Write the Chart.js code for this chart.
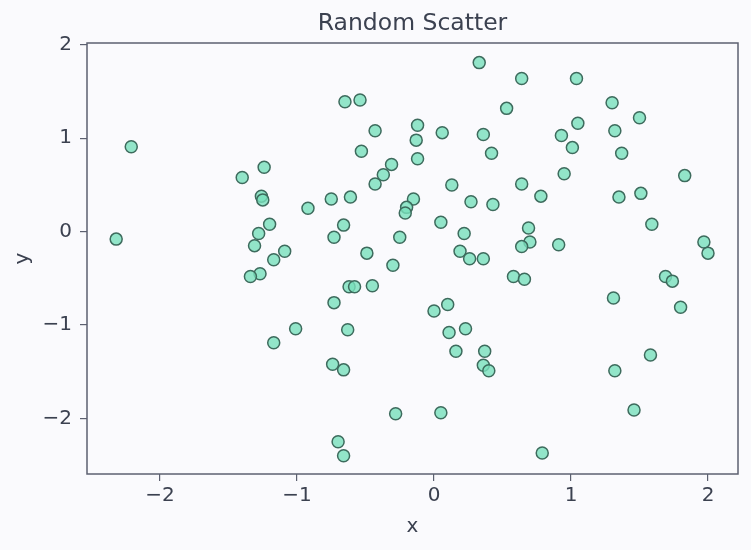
<!DOCTYPE html>
<html>
<head>
<meta charset="utf-8">
<script src="https://cdn.jsdelivr.net/npm/chart.js@4.4.1/dist/chart.umd.min.js"></script>
<style>
  html, body { margin: 0; padding: 0; background: #fafafd; }
  #wrap { width: 751px; height: 550px; }
</style>
</head>
<body>
<div id="wrap"><canvas id="scatter" width="751" height="550"></canvas></div>
<script>
// valores
const xValues = [
  -2.32, -2.21, -1.40, -1.24, -1.26, -1.25, -1.20, -1.28, -1.31, -1.09,
  -1.17, -1.27, -1.34, -1.01, -1.17, -0.65, -0.54, -0.43, -0.12, -0.13,
  -0.53, -0.12, -0.31, -0.37, -0.43, -0.75, -0.61, -0.92, -0.15, -0.20,
  -0.21, -0.66, -0.73, -0.25, -0.49, -0.30, -0.62, -0.58, -0.45, -0.73,
  -0.63, -0.74, -0.66, -0.28, -0.70, -0.66, 0.33, 0.06, 0.36, 0.42,
  0.13, 0.27, 0.43, 0.05, 0.22, 0.19, 0.26, 0.36, 0.00, 0.10,
  0.11, 0.23, 0.16, 0.37, 0.36, 0.40, 0.05, 0.53, 0.64, 1.04,
  1.30, 1.50, 1.05, 1.32, 0.93, 1.01, 1.37, 0.95, 1.83, 0.64,
  0.78, 1.35, 1.51, 1.59, 0.69, 0.70, 0.64, 0.91, 1.97, 2.00,
  0.58, 0.66, 1.69, 1.74, 1.80, 1.31, 1.58, 1.32, 1.46, 0.79
];
const yValues = [
  -0.08, 0.91, 0.58, 0.69, 0.38, 0.34, 0.08, -0.02, -0.15, -0.21,
  -0.30, -0.45, -0.48, -1.04, -1.19, 1.39, 1.41, 1.08, 1.14, 0.98,
  0.86, 0.78, 0.72, 0.61, 0.51, 0.35, 0.37, 0.25, 0.35, 0.26,
  0.20, 0.07, -0.06, -0.06, -0.23, -0.36, -0.59, -0.59, -0.58, -0.76,
  -1.05, -1.42, -1.48, -1.95, -2.25, -2.40, 1.81, 1.06, 1.04, 0.84,
  0.50, 0.32, 0.29, 0.10, -0.02, -0.21, -0.29, -0.29, -0.85, -0.78,
  -1.08, -1.04, -1.28, -1.28, -1.43, -1.49, -1.94, 1.32, 1.64, 1.64,
  1.38, 1.22, 1.16, 1.08, 1.03, 0.90, 0.84, 0.62, 0.60, 0.51,
  0.38, 0.37, 0.41, 0.08, 0.04, -0.11, -0.16, -0.14, -0.11, -0.23,
  -0.48, -0.51, -0.48, -0.53, -0.81, -0.71, -1.32, -1.49, -1.91, -2.37
];
const xTicks = [-2, -1, 0, 1, 2];
const yTicks = [-2, -1, 0, 1, 2];

const points = xValues.map((x, i) => ({ x: x, y: yValues[i] }));

const textColor = '#3b4150';
const spineColor = '#5c6070';
const bgColor = '#fafafd';

function fmt(v) {
    return v < 0 ? '\u2212' + Math.abs(v) : String(v);
}

// fundo + moldura (quatro lados)
const frame = {
    id: 'frame',
    beforeDraw(chart) {
        const ctx = chart.ctx;
        ctx.save();
        ctx.fillStyle = bgColor;
        ctx.fillRect(0, 0, chart.width, chart.height);
        ctx.restore();
    },
    afterDatasetsDraw(chart) {
        const a = chart.chartArea;
        const ctx = chart.ctx;
        ctx.save();
        ctx.strokeStyle = spineColor;
        ctx.lineWidth = 1.5;
        ctx.strokeRect(a.left, a.top, a.right - a.left, a.bottom - a.top);
        ctx.restore();
    }
};

new Chart(document.getElementById('scatter'), {
    type: 'scatter',
    data: {
        datasets: [{
            data: points,
            backgroundColor: 'rgba(120, 224, 188, 0.8)',
            borderColor: '#3d6b5d',
            borderWidth: 1.5,
            pointRadius: 6,
            pointHoverRadius: 6
        }]
    },
    plugins: [frame],
    options: {
        responsive: false,
        animation: false,
        layout: { padding: { top: 0, right: 13, bottom: 0, left: 0 } },
        plugins: {
            legend: { display: false },
            tooltip: { enabled: false },
            title: {
                display: true,
                fullSize: false,
                text: 'Random Scatter',
                color: textColor,
                font: { family: 'DejaVu Sans', size: 23.5, weight: 'normal', lineHeight: 1.2 },
                padding: { top: 10, bottom: 4.8 }
            }
        },
        scales: {
            x: {
                type: 'linear',
                min: -2.533,
                max: 2.219,
                afterBuildTicks: s => { s.ticks = xTicks.map(v => ({ value: v })); },
                afterFit: s => { s.height = 76; },
                ticks: {
                    color: textColor,
                    font: { family: 'DejaVu Sans', size: 20 },
                    padding: 3,
                    maxRotation: 0,
                    callback: v => fmt(v)
                },
                grid: {
                    drawOnChartArea: false,
                    drawTicks: true,
                    tickLength: 7,
                    color: spineColor,
                    lineWidth: 1.2
                },
                border: { display: false },
                title: {
                    display: true,
                    text: 'x',
                    color: textColor,
                    font: { family: 'DejaVu Sans', size: 20, lineHeight: 1.2 },
                    padding: { top: 0, bottom: 11.5 }
                }
            },
            y: {
                type: 'linear',
                min: -2.595,
                max: 2.02,
                afterBuildTicks: s => { s.ticks = yTicks.map(v => ({ value: v })); },
                afterFit: s => { s.width = 87; },
                ticks: {
                    color: textColor,
                    font: { family: 'DejaVu Sans', size: 20 },
                    padding: 8,
                    callback: v => fmt(v)
                },
                grid: {
                    drawOnChartArea: false,
                    drawTicks: true,
                    tickLength: 7,
                    color: spineColor,
                    lineWidth: 1.2
                },
                border: { display: false },
                title: {
                    display: true,
                    text: 'y',
                    color: textColor,
                    font: { family: 'DejaVu Sans', size: 20, lineHeight: 1.2 },
                    padding: { top: 10.5, bottom: 0 }
                }
            }
        }
    }
});
</script>
</body>
</html>
